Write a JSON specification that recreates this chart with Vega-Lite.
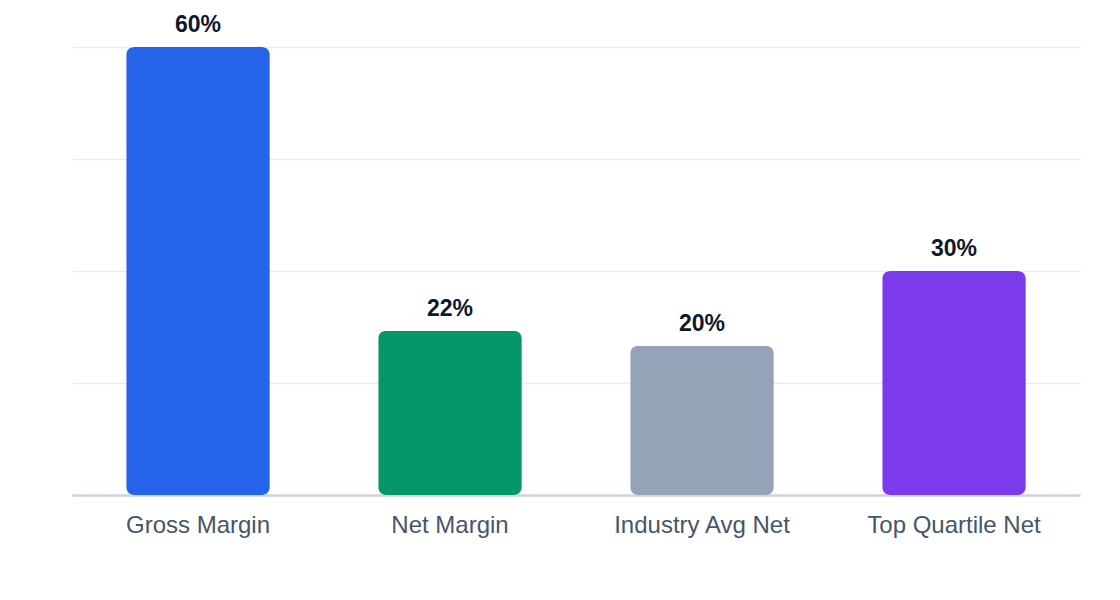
{
  "$schema": "https://vega.github.io/schema/vega-lite/v6.json",
  "width": 1008,
  "height": 448,
  "autosize": "none",
  "padding": {"left": 72, "top": 47, "right": 40, "bottom": 105},
  "background": "#ffffff",
  "config": {
    "view": {"stroke": null},
    "font": "Liberation Sans"
  },
  "data": {
    "values": [
      {"metric": "Gross Margin", "value": 0.60},
      {"metric": "Net Margin", "value": 0.22},
      {"metric": "Industry Avg Net", "value": 0.20},
      {"metric": "Top Quartile Net", "value": 0.30}
    ]
  },
  "encoding": {
    "x": {
      "field": "metric",
      "type": "nominal",
      "sort": null,
      "scale": {"paddingInner": 0.43, "paddingOuter": 0.215},
      "axis": {
        "title": null,
        "labelAngle": 0,
        "labelFontSize": 24,
        "labelColor": "#475569",
        "labelPadding": 18,
        "ticks": false,
        "domainColor": "#cbd5e1",
        "domainWidth": 2.5,
        "grid": false
      }
    },
    "y": {
      "field": "value",
      "type": "quantitative",
      "scale": {"domain": [0, 0.6], "nice": false},
      "axis": {
        "title": null,
        "labels": false,
        "ticks": false,
        "domain": false,
        "values": [0, 0.15, 0.3, 0.45, 0.6],
        "gridColor": "#e8ecf2",
        "gridWidth": 1.5
      }
    }
  },
  "layer": [
    {
      "mark": {"type": "bar", "cornerRadius": 8},
      "encoding": {
        "color": {
          "field": "metric",
          "type": "nominal",
          "scale": {
            "domain": ["Gross Margin", "Net Margin", "Industry Avg Net", "Top Quartile Net"],
            "range": ["#2563eb", "#059669", "#94a3b8", "#7c3aed"]
          },
          "legend": null
        }
      }
    },
    {
      "mark": {
        "type": "text",
        "baseline": "alphabetic",
        "dy": -15,
        "fontSize": 23,
        "fontWeight": "bold",
        "color": "#0f172a"
      },
      "encoding": {
        "text": {"field": "value", "type": "quantitative", "format": ".0%"}
      }
    }
  ]
}
